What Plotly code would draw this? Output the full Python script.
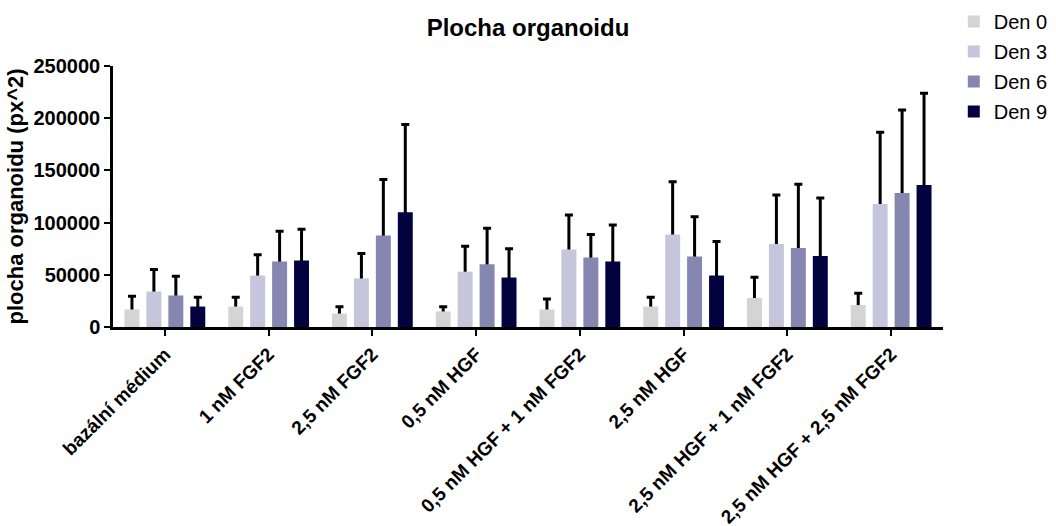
import plotly.graph_objects as go

categories = ["bazální médium", "1 nM FGF2", "2,5 nM FGF2", "0,5 nM HGF",
              "0,5 nM HGF + 1 nM FGF2", "2,5 nM HGF", "2,5 nM HGF + 1 nM FGF2",
              "2,5 nM HGF + 2,5 nM FGF2"]
series_names = ["Den 0", "Den 3", "Den 6", "Den 9"]
colors = ["#d4d4d4", "#c5c6dc", "#8587b0", "#02023f"]

den0 = [16800, 19600, 12900, 14900, 16800, 19600, 27800, 21000]
den3 = [34000, 49300, 46500, 53000, 74200, 88600, 79500, 117800]
den6 = [30200, 62700, 87600, 60100, 66600, 67500, 75700, 128400]
den9 = [19600, 63700, 110000, 47400, 62700, 49300, 68000, 136000]

err0 = [12700, 9000, 6400, 4500, 10000, 9000, 19800, 11300]
err3 = [21000, 20000, 24000, 24400, 33000, 50500, 47000, 68700]
err6 = [18500, 29000, 53700, 34500, 22000, 38000, 61000, 79500]
err9 = [9000, 30000, 84000, 27500, 35000, 32600, 55600, 88000]

values = [den0, den3, den6, den9]
errors = [err0, err3, err6, err9]

y_ticks = [0, 50000, 100000, 150000, 200000, 250000]

FONT = "Liberation Sans, Arial, sans-serif"

fig = go.Figure()

# error bars first (drawn beneath the coloured bars so only the upper part shows)
for name, vals, errs in zip(series_names, values, errors):
    fig.add_trace(go.Bar(
        x=categories, y=vals, name=name, offsetgroup=name, legendgroup=name,
        showlegend=False,
        marker=dict(color="rgba(0,0,0,0)", line=dict(width=0)),
        error_y=dict(type="data", array=errs, symmetric=False,
                     arrayminus=[v * 0.5 for v in vals],
                     color="black", thickness=3, width=4),
        hoverinfo="skip",
    ))

for name, vals, col in zip(series_names, values, colors):
    fig.add_trace(go.Bar(
        x=categories, y=vals, name=name, offsetgroup=name, legendgroup=name,
        marker=dict(color=col, line=dict(width=0)),
    ))

fig.update_layout(
    width=1056, height=526,
    barmode="group", bargap=0.154, bargroupgap=0.318,
    plot_bgcolor="white", paper_bgcolor="white",
    margin=dict(l=113, r=113, t=66, b=199, autoexpand=False),
    font=dict(family=FONT, color="black"),
    title=dict(text="<b>Plocha organoidu</b>", x=0.5, xanchor="center",
               y=0.947, yanchor="middle", font=dict(size=24, family=FONT)),
    legend=dict(x=1.013, xanchor="left", y=1.245, yanchor="top",
                font=dict(size=20, family=FONT), itemwidth=30,
                traceorder="grouped", tracegroupgap=1,
                bgcolor="rgba(0,0,0,0)"),
    xaxis=dict(
        type="category", categoryorder="array", categoryarray=categories,
        range=[-0.5, 7.5], automargin=False,
        showline=True, linecolor="black", linewidth=2.5,
        ticks="outside", ticklen=6, tickwidth=2, tickcolor="black",
        tickangle=-45, tickfont=dict(size=19, family=FONT, weight="bold"),
        showgrid=False, zeroline=False,
    ),
    yaxis=dict(
        range=[0, 250000], tickvals=y_ticks, tickformat="d", automargin=False,
        showline=True, linecolor="black", linewidth=2.5,
        ticks="outside", ticklen=6, tickwidth=2, tickcolor="black",
        tickfont=dict(size=20, family=FONT, weight="bold"),
        showgrid=False, zeroline=False,
        title=dict(text="<b>plocha organoidu (px^2)</b>", standoff=4,
                   font=dict(size=22, family=FONT)),
    ),
)

fig.write_html("out.html")
